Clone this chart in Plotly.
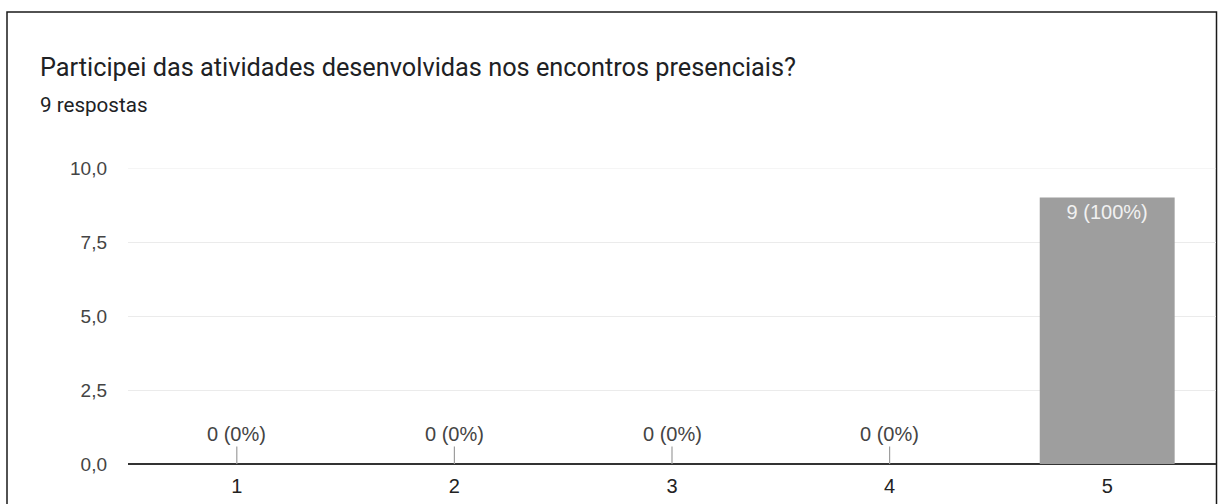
import plotly.graph_objects as go

categories = ["1", "2", "3", "4", "5"]
counts = [0, 0, 0, 0, 9]
y_ticks = [0, 2.5, 5, 7.5, 10]

title_text = "Participei das atividades desenvolvidas nos encontros presenciais?"
subtitle_text = "9 respostas"

total = sum(counts)
pcts = [round(c / total * 100) for c in counts]
labels = [f"{c} ({p}%)" for c, p in zip(counts, pcts)]

L, R, T, B = 128, 2, 168, 40
PW, PH = 1218 - L - R, 504 - T - B


def px_x(px):
    return (px - L) / PW


def px_y(py):
    return 1 + (T - py) / PH


fig = go.Figure()
fig.add_trace(go.Bar(
    x=categories, y=counts,
    marker=dict(color="#9e9e9e", line=dict(width=0)),
    width=0.62,
    text=[lab if c > 0 else "" for lab, c in zip(labels, counts)],
    textposition="inside", insidetextanchor="end", constraintext="none",
    textfont=dict(family="Liberation Sans, Arial", size=20, color="#f1f1f1"),
    hoverinfo="skip",
))

annotations = []
for i, (c, lab) in enumerate(zip(counts, labels)):
    if c == 0:
        annotations.append(dict(
            x=i, y=c, xref="x", yref="y", text=lab,
            showarrow=True, arrowhead=0, arrowwidth=1.2, arrowcolor="#9e9e9e",
            ax=0, ay=-30, font=dict(family="Liberation Sans, Arial", size=20, color="#444444"),
        ))

annotations += [
    dict(x=px_x(38), y=px_y(67.5), xref="paper", yref="paper",
         xanchor="left", yanchor="middle", text=title_text, showarrow=False,
         font=dict(family="Roboto", size=25.3, color="#202124")),
    dict(x=px_x(38), y=px_y(104.5), xref="paper", yref="paper",
         xanchor="left", yanchor="middle", text=subtitle_text, showarrow=False,
         font=dict(family="Roboto", size=20.6, color="#202124")),
]

fig.update_layout(
    width=1218, height=504,
    margin=dict(l=L, r=R, t=T, b=B),
    paper_bgcolor="white", plot_bgcolor="white",
    separators=", ",
    showlegend=False,
    annotations=annotations,
    shapes=[
        dict(type="rect", xref="paper", yref="paper",
             x0=px_x(7), x1=px_x(1216.5), y0=-0.3, y1=px_y(12),
             line=dict(color="#1a1a1a", width=1.5), fillcolor="rgba(0,0,0,0)", layer="below"),
        dict(type="line", xref="paper", yref="y", x0=0, x1=1,
             y0=y_ticks[-1], y1=y_ticks[-1],
             line=dict(color="#ebebeb", width=1), layer="below"),
    ],
    xaxis=dict(
        type="category", showgrid=False, zeroline=False, showline=False, ticks="",
        tickfont=dict(family="Liberation Sans, Arial", size=20, color="#222222"),
        ticklabelstandoff=8,
    ),
    yaxis=dict(
        range=[0, 10], tickvals=y_ticks, tickformat=".1f",
        showgrid=True, gridcolor="#ebebeb", gridwidth=1,
        zeroline=True, zerolinecolor="#333333", zerolinewidth=1.5,
        showline=False, ticks="",
        tickfont=dict(family="Liberation Sans, Arial", size=19, color="#444444"),
        ticklabelstandoff=20,
    ),
)

fig.write_html("out.html")
